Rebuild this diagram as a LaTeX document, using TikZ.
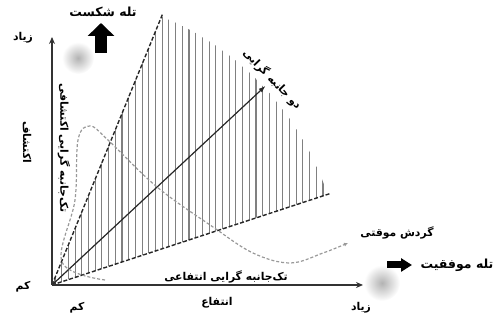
\documentclass[tikz,border=0pt]{standalone}
\usepackage{fontspec}
\newfontfamily\fa[Script=Arabic]{DejaVu Sans}
\TeXXeTstate=1
\usetikzlibrary{arrows.meta}

\begin{document}
\begin{tikzpicture}[x=1pt, y=1pt,
  lbl/.style={font=\fa\bfseries\fontsize{10.8}{12}\selectfont, inner sep=1pt},
  big/.style={font=\fa\bfseries\fontsize{12.5}{14}\selectfont, inner sep=1pt},
  axis/.style={draw=black!80, line width=1.6pt, -{Stealth[length=7pt, width=6pt]}},
  guide/.style={draw=black!85, line width=1.4pt, dash pattern=on 4pt off 2pt},
  hatch/.style={draw=black!50, line width=1.1pt},
  trail/.style={draw=black!40, line width=1.2pt, dash pattern=on 3pt off 2pt, -{Latex[length=4pt, width=4pt]}},
  fat/.style={draw=black, line width=#1}
]
\useasboundingbox (0,0) rectangle (493,320);

% soft grey spots
\shade[inner color=black!30, outer color=white] (78,262) circle (16);
\shade[inner color=black!30, outer color=white] (382,37) circle (18);

\coordinate (O) at (52,35);
\coordinate (ytop) at (52,283);
\coordinate (xend) at (363,35);

% hatched sector
\begin{scope}
  \clip (O) -- ++(18.2:290) arc[start angle=18.2, end angle=67.8, radius=290] -- cycle;
  \foreach \hx in {3,9.7,...,290}
    \draw[hatch] ([xshift=\hx]O) -- ++(0,300);
\end{scope}

\draw[guide] (O) -- ++(67.8:294) coordinate (upEnd);
\draw[guide] (O) -- ++(18.2:294) coordinate (lowEnd);
\draw[draw=black!85, line width=1.2pt, -{Latex[length=7pt, width=5pt]}] (O) -- ++(43:292) coordinate (tip);

% temporary cycling path
\draw[trail] plot[smooth, tension=0.6] coordinates {(105,40) (62,58) (75,120) (78,180) (90,194) (108,180) (157,133) (213,93) (253,67) (290,57) (323,67) (348,77)};

\draw[axis] (O) -- (ytop);
\draw[axis] (O) -- (xend);

\node[lbl] (yhi) at (23,282) {\beginR زیاد\endR};
\node[lbl] (ylo) at (23,33) {\beginR کم\endR};
\node[lbl] (xlo) at (77,12) {\beginR کم\endR};
\node[lbl] (xname) at (217,17) {\beginR انتفاع\endR};
\node[lbl] (xhi) at (361,12) {\beginR زیاد\endR};
\node[lbl, rotate=-90] (yname) at (27,178) {\beginR اکتشاف\endR};
\node[lbl, rotate=-90] (explore) at (64,172) {\beginR تک‌جانبه گرایی اکتشافی\endR};
\node[lbl] (exploit) at (226,43) {\beginR تک‌جانبه گرایی انتفاعی\endR};
\node[lbl, rotate=-46, anchor=south, yshift=2pt] (ambi) at (tip) {\beginR دو جانبه گرایی\endR};
\node[lbl] (cycle) at (397,87) {\beginR گردش موقتی\endR};
\node[big] (strap) at (457,55) {\beginR تله موفقیت\endR};
\node[big] (ftrap) at (103,308) {\beginR تله شکست\endR};

% trap arrows
\coordinate (fBase) at (101,267);
\coordinate (fTip) at (101,297);
\coordinate (sBase) at (387,55);
\coordinate (sTip) at (412,55);
\draw[fat=12pt, -{Triangle[length=13pt, width=26pt]}] (fBase) -- (fTip);
\draw[fat=7pt, -{Triangle[length=11pt, width=13pt]}] (sBase) -- (sTip);
\end{tikzpicture}
\end{document}
